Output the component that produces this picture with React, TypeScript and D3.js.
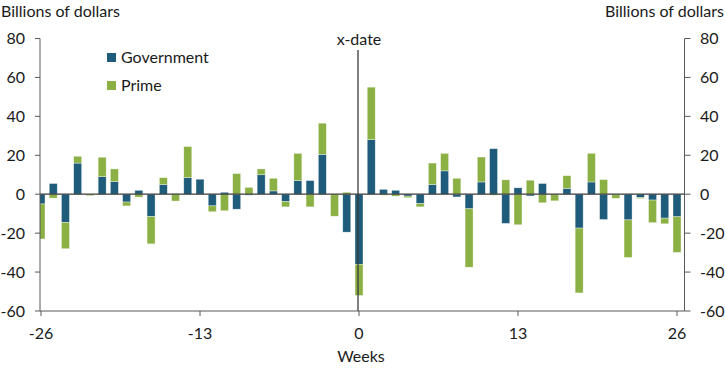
import React, { useEffect, useRef } from "react";
import * as d3 from "d3";

const weeks = d3.range(-26, 27);

// billions of dollars
const government = [
  -5, 5.5, -14.5, 16, -0.3, 9, 6.5, -4, 2, -11.5, 5, 0.2, 8.5, 7.7, -6, 1,
  -7.7, -0.5, 10, 1.7, -3.8, 7, 7, 20.5, 0, -19.5, -36, 28, 2.5, 2, -1, -4.8,
  5, 12, -1.4, -7.5, 6.3, 23.4, -15, 3.3, -0.9, 5.5, 0, 3, -17.4, 6.3, -13,
  -0.3, -13.2, -1.7, -3, -12.3, -11.6,
];
const prime = [
  -18, -2, -13.5, 3.5, -0.5, 10, 6.5, -2, -1.5, -14, 3.5, -3.5, 16, -0.3, -3,
  -8.5, 10.6, 3.5, 3, 6.5, -2.7, 14, -6.5, 16, -11.3, 1, -16, 27, -0.5, -1,
  -0.8, -1.7, 11, 9, 8.2, -30, 12.8, -0.5, 7.4, -15.7, 7.2, -4.4, -3.4, 6.5,
  -33.3, 14.7, 7.5, -1.8, -19.3, -0.5, -11.6, -2.9, -18.3,
];
const yTicks = [80, 60, 40, 20, 0, -20, -40, -60];
const xTicks = [-26, -13, 0, 13, 26];

const seriesKeys = ["Government", "Prime"];
const colors = { Government: "#1f5c7b", Prime: "#8bb043" };

const W = 725;
const H = 369;
const font = "Lato, 'Open Sans', sans-serif";
const textColor = "#1a1a1a";
const axisColor = "#595959";

export default function App() {
  const ref = useRef<SVGSVGElement>(null);

  useEffect(() => {
    const svg = d3.select(ref.current);
    svg.selectAll("*").remove();

    const left = 40;
    const right = 684.5;
    const top = 38.5;
    const bottom = 311;

    const x = d3.scaleLinear().domain([-26, 26]).range([41, 677]);
    const y = d3.scaleLinear().domain([-60, 80]).range([bottom, top]);
    const barW = 8;

    const rows = weeks.map((w, i) => ({
      week: w,
      Government: government[i],
      Prime: prime[i],
    }));
    const stacked = d3
      .stack<any>()
      .keys(seriesKeys)
      .offset(d3.stackOffsetDiverging)(rows);

    svg
      .append("defs")
      .append("clipPath")
      .attr("id", "plot-clip")
      .append("rect")
      .attr("x", left)
      .attr("y", 0)
      .attr("width", right - left)
      .attr("height", H);

    const bars = svg.append("g").attr("clip-path", "url(#plot-clip)");
    stacked.forEach((s) => {
      bars
        .append("g")
        .attr("fill", colors[s.key as "Government" | "Prime"])
        .selectAll("rect")
        .data(s)
        .enter()
        .append("rect")
        .attr("x", (d: any) => x(d.data.week) - barW / 2)
        .attr("y", (d) => y(Math.max(d[0], d[1])))
        .attr("width", barW)
        .attr("height", (d) => Math.abs(y(d[0]) - y(d[1])))
        .attr("stroke", "#ffffff")
        .attr("stroke-opacity", 0.6)
        .attr("stroke-width", 0.6);
    });

    // zero line over the bars
    svg
      .append("line")
      .attr("x1", left)
      .attr("x2", right)
      .attr("y1", y(0))
      .attr("y2", y(0))
      .attr("stroke", "#3a3a3a")
      .attr("stroke-width", 1.3);

    // x-date marker
    svg
      .append("line")
      .attr("x1", x(0) - 1)
      .attr("x2", x(0) - 1)
      .attr("y1", 50)
      .attr("y2", bottom)
      .attr("stroke", "#3a3a3a")
      .attr("stroke-width", 1.3);
    svg
      .append("text")
      .attr("x", x(0))
      .attr("y", 45)
      .attr("text-anchor", "middle")
      .style("font-family", font)
      .style("font-size", "16px")
      .attr("fill", textColor)
      .text("x-date");

    // left axis
    const gl = svg.append("g");
    gl.append("line")
      .attr("x1", left)
      .attr("x2", left)
      .attr("y1", top)
      .attr("y2", bottom)
      .attr("stroke", axisColor);
    yTicks.forEach((t) => {
      gl.append("line")
        .attr("x1", left - 5)
        .attr("x2", left)
        .attr("y1", y(t))
        .attr("y2", y(t))
        .attr("stroke", axisColor);
      gl.append("text")
        .attr("x", 25)
        .attr("y", y(t))
        .attr("dy", "0.35em")
        .attr("text-anchor", "end")
        .style("font-family", font)
        .style("font-size", "16px")
        .attr("fill", textColor)
        .text(t);
    });

    // right axis
    const gr = svg.append("g");
    gr.append("line")
      .attr("x1", right)
      .attr("x2", right)
      .attr("y1", top)
      .attr("y2", bottom)
      .attr("stroke", axisColor);
    yTicks.forEach((t) => {
      gr.append("line")
        .attr("x1", right)
        .attr("x2", right + 6)
        .attr("y1", y(t))
        .attr("y2", y(t))
        .attr("stroke", axisColor);
      gr.append("text")
        .attr("x", 700)
        .attr("y", y(t))
        .attr("dy", "0.35em")
        .attr("text-anchor", "start")
        .style("font-family", font)
        .style("font-size", "16px")
        .attr("fill", textColor)
        .text(t);
    });

    // bottom axis
    const gb = svg.append("g");
    gb.append("line")
      .attr("x1", left)
      .attr("x2", right)
      .attr("y1", bottom)
      .attr("y2", bottom)
      .attr("stroke", axisColor);
    xTicks.forEach((t) => {
      gb.append("line")
        .attr("x1", x(t))
        .attr("x2", x(t))
        .attr("y1", bottom)
        .attr("y2", bottom + 5)
        .attr("stroke", axisColor);
      gb.append("text")
        .attr("x", x(t))
        .attr("y", 339)
        .attr("text-anchor", "middle")
        .style("font-family", font)
        .style("font-size", "16px")
        .attr("fill", textColor)
        .text(t);
    });

    svg
      .append("text")
      .attr("x", 361)
      .attr("y", 362)
      .attr("text-anchor", "middle")
      .style("font-family", font)
      .style("font-size", "16px")
      .attr("fill", textColor)
      .text("Weeks");

    // unit labels
    svg
      .append("text")
      .attr("x", 1)
      .attr("y", 17)
      .style("font-family", font)
      .style("font-size", "16px")
      .attr("fill", textColor)
      .text("Billions of dollars");
    svg
      .append("text")
      .attr("x", 724)
      .attr("y", 17)
      .attr("text-anchor", "end")
      .style("font-family", font)
      .style("font-size", "16px")
      .attr("fill", textColor)
      .text("Billions of dollars");

    // legend
    const legend = svg.append("g").attr("transform", "translate(107,49)");
    seriesKeys.forEach((k, i) => {
      const row = legend.append("g").attr("transform", `translate(0,${i * 28})`);
      row
        .append("rect")
        .attr("width", 9)
        .attr("height", 9)
        .attr("y", 4)
        .attr("fill", colors[k as "Government" | "Prime"]);
      row
        .append("text")
        .attr("x", 14)
        .attr("y", 8.5)
        .attr("dy", "0.35em")
        .style("font-family", font)
        .style("font-size", "16px")
        .attr("fill", textColor)
        .text(k);
    });
  }, []);

  return (
    <svg
      ref={ref}
      width={W}
      height={H}
      style={{ position: "absolute", left: 0, top: 0, background: "#fff" }}
    />
  );
}
